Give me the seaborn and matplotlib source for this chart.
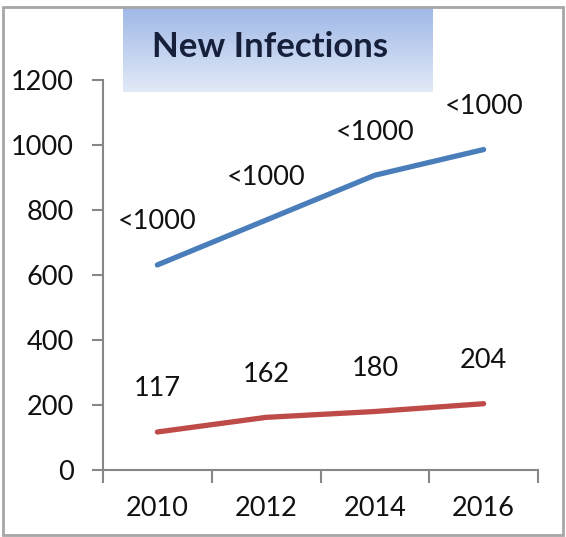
import numpy as np
import pandas as pd
import seaborn as sns
import matplotlib.pyplot as plt
from matplotlib.patches import Rectangle
from matplotlib.colors import LinearSegmentedColormap

# dados
years = ["2010", "2012", "2014", "2016"]
upper_values = [631, 769, 907, 986]
upper_labels = ["<1000", "<1000", "<1000", "<1000"]
lower_values = [117, 162, 180, 204]
lower_labels = ["117", "162", "180", "204"]
series_names = ["upper", "lower"]
colors = ["#4a7ebb", "#be4b48"]

df = pd.DataFrame({
    "pos": list(range(len(years))) * 2,
    "value": upper_values + lower_values,
    "series": [series_names[0]] * len(years) + [series_names[1]] * len(years),
})

sns.set_style("white")
plt.rcParams['font.family'] = ['Lato', 'DejaVu Sans']

W, H = 566, 537
fig = plt.figure(figsize=(W / 100, H / 100), dpi=100)

# borda externa do grafico
fig.patches.append(Rectangle((3 / W, 1 - 535 / H), 560 / W, 528 / H, transform=fig.transFigure,
                             fill=False, edgecolor="#a6a6a6", linewidth=2))

ax = fig.add_axes([103 / W, 1 - 470 / H, 435 / W, 390 / H])
sns.lineplot(data=df, x="pos", y="value", hue="series", palette=colors,
             linewidth=3.8, legend=False, ax=ax, solid_capstyle="round")

# rotulos de dados
for i in range(len(years)):
    ax.annotate(upper_labels[i], (i, upper_values[i]), xytext=(0, 31), textcoords="offset points",
                ha="center", va="center", fontsize=19.5, color="#111111")
    ax.annotate(lower_labels[i], (i, lower_values[i]), xytext=(0, 31), textcoords="offset points",
                ha="center", va="center", fontsize=19.5, color="#111111")

ax.set_ylim(0, 1200)
ax.set_yticks(np.arange(0, 1201, 200))
ax.set_xlim(-0.5, len(years) - 0.5)
ax.set_xticks(np.arange(-0.5, len(years), 1.0))
ax.set_xticklabels([])
ax.set_xticks(range(len(years)), minor=True)
ax.set_xticklabels(years, minor=True)
ax.tick_params(axis="x", which="major", direction="out", length=9, width=1.5, color="#868686", bottom=True)
ax.tick_params(axis="x", which="minor", length=0, pad=19, labelsize=19.5, labelcolor="#111111")
ax.tick_params(axis="y", direction="out", length=8, width=1.5, color="#868686", left=True,
               pad=13, labelsize=19.5, labelcolor="#111111")
ax.set_xlabel("")
ax.set_ylabel("")
for s in ["top", "right"]:
    ax.spines[s].set_visible(False)
for s in ["left", "bottom"]:
    ax.spines[s].set_color("#868686")
    ax.spines[s].set_linewidth(1.5)

# caixa do titulo com degrade
tax = fig.add_axes([123 / W, 1 - 92 / H, 310 / W, 84 / H])
cmap = LinearSegmentedColormap.from_list("tb", ["#a0b9e7", "#e2e9f7"])
tax.imshow(np.linspace(0, 1, 100).reshape(-1, 1), aspect="auto", cmap=cmap, extent=[0, 1, 0, 1])
tax.set_axis_off()
tax.text(0.475, 0.54, "New Infections", ha="center", va="center", fontsize=25,
         fontweight="bold", color="#16203a", transform=tax.transAxes)

fig.savefig("out.png", dpi=100)
